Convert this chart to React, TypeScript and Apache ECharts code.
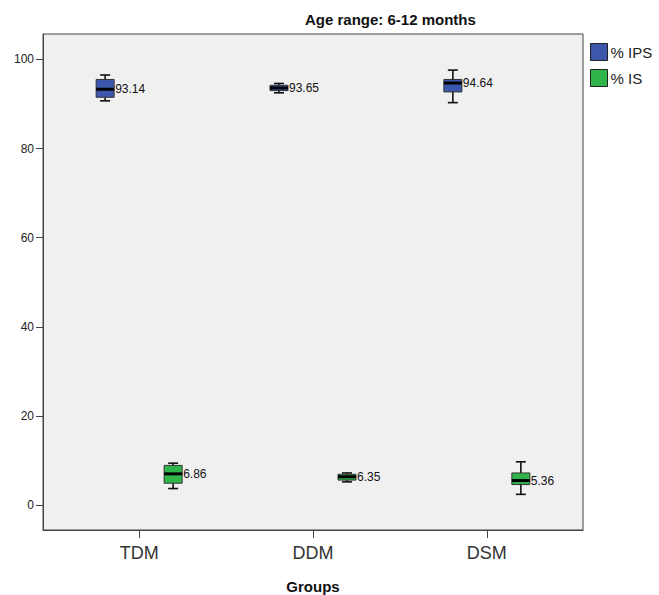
import React, { useEffect, useRef } from "react";
import * as echarts from "echarts";

const categories = ["TDM", "DDM", "DSM"];
const yTicks = [0, 20, 40, 60, 80, 100];

// % IPS box statistics (min, q1, median, q3, max) and mean labels
const ipsMin = [90.7, 92.5, 90.3];
const ipsQ1 = [91.5, 93.0, 92.7];
const ipsMedian = [93.3, 93.6, 94.7];
const ipsQ3 = [95.5, 94.2, 95.5];
const ipsMax = [96.5, 94.6, 97.6];
const ipsMean = ["93.14", "93.65", "94.64"];

// % IS box statistics
const isMin = [3.7, 5.2, 2.4];
const isQ1 = [4.9, 5.6, 4.6];
const isMedian = [7.0, 6.35, 5.5];
const isQ3 = [8.9, 6.9, 7.2];
const isMax = [9.4, 7.2, 9.7];
const isMean = ["6.86", "6.35", "5.36"];

const FONT = "'Liberation Sans', Arial, sans-serif";
const BLUE = "#3c57ab";
const GREEN = "#2fb54a";

function makeRender(offset: number, means: string[]) {
  return (params: any, api: any) => {
    const x = api.value(0);
    const pMin = api.coord([x, api.value(1)]);
    const pQ1 = api.coord([x, api.value(2)]);
    const pMed = api.coord([x, api.value(3)]);
    const pQ3 = api.coord([x, api.value(4)]);
    const pMax = api.coord([x, api.value(5)]);
    const cx = pMin[0] + offset;
    const bw = 18;
    const cw = 10;
    const color = api.visual("color");
    const lineStyle = { stroke: "#111", lineWidth: 1.6 };
    return {
      type: "group",
      children: [
        { type: "line", shape: { x1: cx, y1: pMax[1], x2: cx, y2: pQ3[1] }, style: lineStyle },
        { type: "line", shape: { x1: cx, y1: pQ1[1], x2: cx, y2: pMin[1] }, style: lineStyle },
        { type: "line", shape: { x1: cx - cw / 2, y1: pMax[1], x2: cx + cw / 2, y2: pMax[1] }, style: lineStyle },
        { type: "line", shape: { x1: cx - cw / 2, y1: pMin[1], x2: cx + cw / 2, y2: pMin[1] }, style: lineStyle },
        {
          type: "rect",
          shape: { x: cx - bw / 2, y: pQ3[1], width: bw, height: pQ1[1] - pQ3[1] },
          style: { fill: color, stroke: "#333", lineWidth: 1 },
        },
        { type: "line", shape: { x1: cx - bw / 2, y1: pMed[1], x2: cx + bw / 2, y2: pMed[1] }, style: { stroke: "#000", lineWidth: 3 } },
        {
          type: "text",
          x: cx + bw / 2 + 1,
          y: pMed[1],
          style: {
            text: means[params.dataIndex],
            fill: "#111",
            font: `12px ${FONT}`,
            verticalAlign: "middle",
            align: "left",
          },
        },
      ],
    };
  };
}

export default function App() {
  const ref = useRef<HTMLDivElement>(null);
  useEffect(() => {
    document.body.style.margin = "0";
    const chart = echarts.init(ref.current!, null, { renderer: "svg" });
    const ipsData = categories.map((_, i) => [i + 1, ipsMin[i], ipsQ1[i], ipsMedian[i], ipsQ3[i], ipsMax[i]]);
    const isData = categories.map((_, i) => [i + 1, isMin[i], isQ1[i], isMedian[i], isQ3[i], isMax[i]]);
    chart.setOption({
      animation: false,
      backgroundColor: "#ffffff",
      title: {
        text: "Age range: 6-12 months",
        left: 300,
        top: 7,
        textStyle: { fontFamily: FONT, fontSize: 15, fontWeight: "bold", color: "#111" },
      },
      legend: {
        orient: "vertical",
        left: 585,
        top: 38,
        itemWidth: 17,
        itemHeight: 17,
        itemGap: 8,
        textStyle: { fontFamily: FONT, fontSize: 15, color: "#222", padding: [0, 0, 0, -2] },
        itemStyle: { borderColor: "#222", borderWidth: 1 },
        data: [
          { name: "% IPS", icon: "rect" },
          { name: "% IS", icon: "rect" },
        ],
      },
      grid: {
        left: 43,
        top: 34,
        right: 76,
        bottom: 65,
        outerBoundsMode: "none",
        containLabel: false,
        show: true,
        backgroundColor: "#f0f0f0",
        borderColor: "#444",
        borderWidth: 1,
      },
      xAxis: {
        type: "value",
        min: 0.447,
        max: 3.553,
        name: "Groups",
        nameLocation: "middle",
        nameGap: 49,
        nameTextStyle: { fontFamily: FONT, fontSize: 15, fontWeight: "bold", color: "#111" },
        axisLine: { show: true, onZero: false, lineStyle: { color: "#444", width: 1 } },
        axisTick: { show: true, length: 8, customValues: [1, 2, 3], lineStyle: { color: "#444" } },
        axisLabel: {
          customValues: [1, 2, 3],
          formatter: (v: number) => categories[Math.round(v) - 1] ?? "",
          fontFamily: FONT,
          fontSize: 18,
          color: "#333",
          margin: 14,
        },
        splitLine: { show: false },
      },
      yAxis: {
        type: "value",
        min: -5.6,
        max: 105.7,
        axisLine: { show: true, onZero: false, lineStyle: { color: "#444", width: 1 } },
        axisTick: { show: true, length: 7, customValues: yTicks, lineStyle: { color: "#444" } },
        axisLabel: {
          customValues: yTicks,
          fontFamily: FONT,
          fontSize: 12,
          color: "#222",
          margin: 9,
        },
        splitLine: { show: false },
      },
      series: [
        {
          name: "% IPS",
          type: "custom",
          itemStyle: { color: BLUE },
          renderItem: makeRender(-34, ipsMean),
          encode: { x: 0, y: [1, 2, 3, 4, 5] },
          data: ipsData,
        },
        {
          name: "% IS",
          type: "custom",
          itemStyle: { color: GREEN },
          renderItem: makeRender(34, isMean),
          encode: { x: 0, y: [1, 2, 3, 4, 5] },
          data: isData,
        },
      ],
    });
    return () => chart.dispose();
  }, []);
  return <div ref={ref} style={{ width: 659, height: 595 }} />;
}
